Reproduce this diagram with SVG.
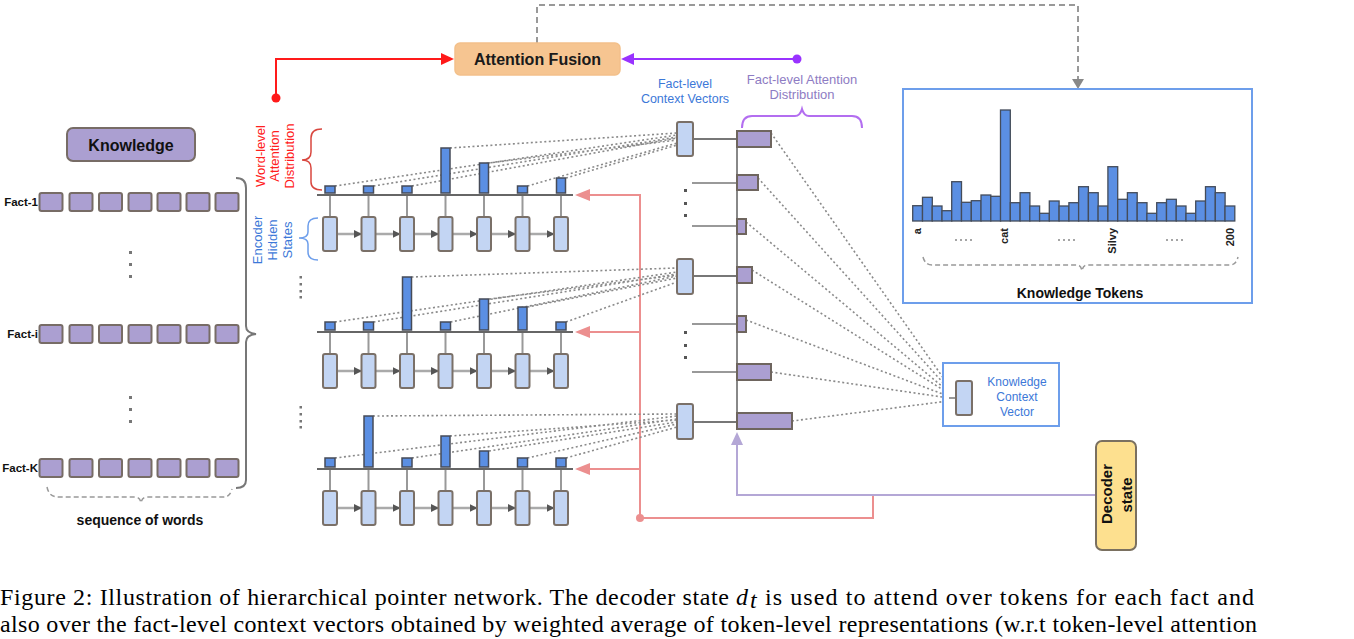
<svg xmlns="http://www.w3.org/2000/svg" width="1354" height="639" viewBox="0 0 1354 639">
<defs>
<style>
.kw{fill:#ab9fd1;stroke:#776c66;stroke-width:2}
.hs{fill:#c3d5f3;stroke:#7a7068;stroke-width:2}
.att{fill:#5b8fe3;stroke:#464b58;stroke-width:1.5}
.tok{fill:#5b8fe3;stroke:#444c5a;stroke-width:1.3}
.fa{fill:#ab9fd1;stroke:#6e655e;stroke-width:2}
.dt{stroke:#8a8a8a;stroke-width:1.6;stroke-dasharray:2 2.5;fill:none}
.hl{stroke:#666;stroke-width:2}
.vc{stroke:#999;stroke-width:2}
.ar{stroke:#aaa;stroke-width:2.5;marker-end:url(#ah)}
.pink{stroke:#ec8f8f;stroke-width:2;fill:none}
.s{font-family:"Liberation Sans",Arial,sans-serif}
.cap{font-family:"Liberation Serif","Times New Roman",serif;font-size:24px;fill:#000}
</style>
<marker id="ah" markerWidth="8" markerHeight="8" refX="7" refY="4" orient="auto" markerUnits="userSpaceOnUse">
<path d="M0,0 L8,4 L0,8 z" fill="#555"/>
</marker>
</defs>

<!-- Top connectors -->
<g id="connectors">
<path d="M537,43 V5 H1078 V80" fill="none" stroke="#999" stroke-width="2" stroke-dasharray="6 4"/>
<polygon points="1072,79 1084,79 1078,89" fill="#888"/>
<path d="M276,98 V59 H442" fill="none" stroke="#ff1a1a" stroke-width="2"/>
<circle cx="276" cy="98" r="4.5" fill="#ff1a1a"/>
<polygon points="441,53 441,65 454,59" fill="#ff1a1a"/>
<path d="M797,59 H633" fill="none" stroke="#9933ff" stroke-width="2"/>
<circle cx="797" cy="59" r="4.5" fill="#9933ff"/>
<polygon points="634,53 634,65 621,59" fill="#9933ff"/>

<!-- pink feed lines -->
<path class="pink" d="M873,495 V518 H640 V195 H588 M640,332 H588 M640,469 H588"/>
<circle cx="640" cy="518" r="4" fill="#ec8f8f"/>
<polygon points="575,195 590,189 590,201" fill="#ec8f8f"/>
<polygon points="575,332 590,326 590,338" fill="#ec8f8f"/>
<polygon points="575,469 590,463 590,475" fill="#ec8f8f"/>

<!-- decoder to fact-level -->
<path d="M1096,495 H737 V444" fill="none" stroke="#b4a7d6" stroke-width="2"/>
<polygon points="731,445 743,445 737,432" fill="#b4a7d6"/>

<!-- word-level dotted lines -->
<g class="dt">
<path d="M335,186 L677,135 M373.5,186 L677,137 M412,186 L677,138 M450,148 L677,133 M488.5,163 L677,140 M527.5,186 L677,143 M566,178 L677,145"/>
<path d="M335,322 L677,272 M373.5,322 L677,274 M411.5,277 L677,268 M450.5,322 L677,276 M489,299 L677,275 M527.5,307 L677,278 M566,322 L677,282"/>
<path d="M335,458 L677,416 M373,416 L677,414 M412,458 L677,419 M450,436 L677,420 M489,451 L677,422 M527.5,458 L677,424 M566,458 L677,427"/>
<path d="M771,133 L956,396 M758,178 L956,397 M746,222 L956,398 M752,270 L956,398 M746,320 L956,399 M771,372 L956,399 M792,421 L956,400"/>
</g>
</g>

<!-- Attention Fusion -->
<g id="attention-fusion">
<rect x="455" y="43" width="165" height="32" rx="5" fill="#f6c591" stroke="#f3c08a" stroke-width="1.5"/>
<text class="s" x="537.5" y="65" font-size="16" font-weight="bold" text-anchor="middle" fill="#1a1a1a">Attention Fusion</text>
</g>

<!-- Knowledge -->
<g id="knowledge">
<rect x="67" y="128" width="128" height="33" rx="6" fill="#ab9fd1" stroke="#776c66" stroke-width="2"/>
<text class="s" x="131" y="151" font-size="16" font-weight="bold" text-anchor="middle" fill="#111">Knowledge</text>
</g>

<g id="facts">
<g class="s" font-size="11.5" font-weight="bold" text-anchor="end" fill="#111">
<text x="38" y="206">Fact-1</text>
<text x="38" y="338">Fact-i</text>
<text x="38" y="472">Fact-K</text>
</g>
<g id="fact-1">
<rect class="kw" x="39.5" y="193" width="23" height="18" rx="2"/><rect class="kw" x="69.5" y="193" width="23" height="18" rx="2"/><rect class="kw" x="99" y="193" width="23" height="18" rx="2"/><rect class="kw" x="128.5" y="193" width="23" height="18" rx="2"/><rect class="kw" x="157.5" y="193" width="23" height="18" rx="2"/><rect class="kw" x="186.5" y="193" width="23" height="18" rx="2"/><rect class="kw" x="215.5" y="193" width="23" height="18" rx="2"/>
</g>
<g id="fact-i">
<rect class="kw" x="39.5" y="325" width="23" height="18" rx="2"/><rect class="kw" x="69.5" y="325" width="23" height="18" rx="2"/><rect class="kw" x="99" y="325" width="23" height="18" rx="2"/><rect class="kw" x="128.5" y="325" width="23" height="18" rx="2"/><rect class="kw" x="157.5" y="325" width="23" height="18" rx="2"/><rect class="kw" x="186.5" y="325" width="23" height="18" rx="2"/><rect class="kw" x="215.5" y="325" width="23" height="18" rx="2"/>
</g>
<g id="fact-k">
<rect class="kw" x="39.5" y="459" width="23" height="18" rx="2"/><rect class="kw" x="69.5" y="459" width="23" height="18" rx="2"/><rect class="kw" x="99" y="459" width="23" height="18" rx="2"/><rect class="kw" x="128.5" y="459" width="23" height="18" rx="2"/><rect class="kw" x="157.5" y="459" width="23" height="18" rx="2"/><rect class="kw" x="186.5" y="459" width="23" height="18" rx="2"/><rect class="kw" x="215.5" y="459" width="23" height="18" rx="2"/>
</g>
<g fill="#777">
<rect x="129" y="251" width="3" height="3"/><rect x="129" y="263" width="3" height="3"/><rect x="129" y="275" width="3" height="3"/>
<rect x="129" y="396" width="3" height="3"/><rect x="129" y="408" width="3" height="3"/><rect x="129" y="420" width="3" height="3"/>
</g>
<path d="M236,178 Q246,178 246,188 L246,326 Q246,333 256,334 Q246,335 246,342 L246,480 Q246,488 236,488" fill="none" stroke="#777" stroke-width="2"/>
<path d="M47,487 Q49,497 58,497 L135,497 Q140,497 141,503 Q142,497 147,497 L224,497 Q230,497 232,489" fill="none" stroke="#999" stroke-width="1.5" stroke-dasharray="5 3"/>
<text class="s" x="140" y="525" font-size="14" font-weight="bold" text-anchor="middle" fill="#111">sequence of words</text>
</g>

<!-- Encoder labels -->
<g id="encoder-labels" class="s" font-size="13">
<g fill="#ff2020" text-anchor="middle">
<text transform="translate(265,156) rotate(-90)">Word-level</text>
<text transform="translate(279,156) rotate(-90)">Attention</text>
<text transform="translate(294,156) rotate(-90)">Distribution</text>
</g>
<path d="M322,129 Q311,129 311,138 L311,152 Q311,160 302,160 Q311,160 311,168 L311,182 Q311,190 322,190" fill="none" stroke="#d9473f" stroke-width="1.5"/>
<g fill="#3c78d8" text-anchor="middle">
<text transform="translate(262,240) rotate(-90)">Encoder</text>
<text transform="translate(277,240) rotate(-90)">Hidden</text>
<text transform="translate(292,240) rotate(-90)">States</text>
</g>
<path d="M318,218 Q308,218 308,226 L308,232 Q308,238 299,238 Q308,238 308,244 L308,252 Q308,260 318,260" fill="none" stroke="#6d9eeb" stroke-width="1.5"/>
<g fill="#777">
<rect x="299.5" y="276" width="2.5" height="2.5"/><rect x="299.5" y="283" width="2.5" height="2.5"/><rect x="299.5" y="290" width="2.5" height="2.5"/><rect x="299.5" y="296" width="2.5" height="2.5"/>
<rect x="299.5" y="406" width="2.5" height="2.5"/><rect x="299.5" y="413" width="2.5" height="2.5"/><rect x="299.5" y="420" width="2.5" height="2.5"/><rect x="299.5" y="426" width="2.5" height="2.5"/>
</g>
</g>

<!-- Encoder row 1 -->
<g id="encoder-1">
<g class="vc"><line x1="330" y1="195" x2="330" y2="217"/><line x1="368.5" y1="195" x2="368.5" y2="217"/><line x1="407" y1="195" x2="407" y2="217"/><line x1="445.5" y1="195" x2="445.5" y2="217"/><line x1="484" y1="195" x2="484" y2="217"/><line x1="522.5" y1="195" x2="522.5" y2="217"/><line x1="561" y1="195" x2="561" y2="217"/></g>
<line class="hl" x1="317" y1="195" x2="573" y2="195"/>
<line class="ar" x1="337" y1="234" x2="361" y2="234"/><line class="ar" x1="375.5" y1="234" x2="399.5" y2="234"/><line class="ar" x1="414" y1="234" x2="438" y2="234"/><line class="ar" x1="452.5" y1="234" x2="476.5" y2="234"/><line class="ar" x1="491" y1="234" x2="515" y2="234"/><line class="ar" x1="529.5" y1="234" x2="553.5" y2="234"/>
<rect class="hs" x="323" y="217" width="14" height="34" rx="2"/><rect class="hs" x="361.5" y="217" width="14" height="34" rx="2"/><rect class="hs" x="400" y="217" width="14" height="34" rx="2"/><rect class="hs" x="438.5" y="217" width="14" height="34" rx="2"/><rect class="hs" x="477" y="217" width="14" height="34" rx="2"/><rect class="hs" x="515.5" y="217" width="14" height="34" rx="2"/><rect class="hs" x="554" y="217" width="14" height="34" rx="2"/>
<rect class="att" x="325" y="186" width="10" height="7"/><rect class="att" x="363.5" y="186" width="10" height="7"/><rect class="att" x="402" y="186" width="10" height="7"/><rect class="att" x="441" y="148" width="9" height="45"/><rect class="att" x="479.5" y="163" width="9" height="30"/><rect class="att" x="517.5" y="186" width="10" height="7"/><rect class="att" x="556.5" y="178" width="9" height="15"/>
</g>

<!-- Encoder row 2 -->
<g id="encoder-2">
<g class="vc"><line x1="330" y1="332" x2="330" y2="354"/><line x1="368.5" y1="332" x2="368.5" y2="354"/><line x1="407" y1="332" x2="407" y2="354"/><line x1="445.5" y1="332" x2="445.5" y2="354"/><line x1="484" y1="332" x2="484" y2="354"/><line x1="522.5" y1="332" x2="522.5" y2="354"/><line x1="561" y1="332" x2="561" y2="354"/></g>
<line class="hl" x1="317" y1="332" x2="573" y2="332"/>
<line class="ar" x1="337" y1="371" x2="361" y2="371"/><line class="ar" x1="375.5" y1="371" x2="399.5" y2="371"/><line class="ar" x1="414" y1="371" x2="438" y2="371"/><line class="ar" x1="452.5" y1="371" x2="476.5" y2="371"/><line class="ar" x1="491" y1="371" x2="515" y2="371"/><line class="ar" x1="529.5" y1="371" x2="553.5" y2="371"/>
<rect class="hs" x="323" y="354" width="14" height="34" rx="2"/><rect class="hs" x="361.5" y="354" width="14" height="34" rx="2"/><rect class="hs" x="400" y="354" width="14" height="34" rx="2"/><rect class="hs" x="438.5" y="354" width="14" height="34" rx="2"/><rect class="hs" x="477" y="354" width="14" height="34" rx="2"/><rect class="hs" x="515.5" y="354" width="14" height="34" rx="2"/><rect class="hs" x="554" y="354" width="14" height="34" rx="2"/>
<rect class="att" x="325" y="322" width="10" height="8"/><rect class="att" x="363.5" y="322" width="10" height="8"/><rect class="att" x="402.5" y="277" width="9" height="53"/><rect class="att" x="440.5" y="322" width="10" height="8"/><rect class="att" x="479.5" y="299" width="9" height="31"/><rect class="att" x="518" y="307" width="9" height="23"/><rect class="att" x="556" y="322" width="10" height="8"/>
</g>

<!-- Encoder row 3 -->
<g id="encoder-3">
<g class="vc"><line x1="330" y1="469" x2="330" y2="491"/><line x1="368.5" y1="469" x2="368.5" y2="491"/><line x1="407" y1="469" x2="407" y2="491"/><line x1="445.5" y1="469" x2="445.5" y2="491"/><line x1="484" y1="469" x2="484" y2="491"/><line x1="522.5" y1="469" x2="522.5" y2="491"/><line x1="561" y1="469" x2="561" y2="491"/></g>
<line class="hl" x1="317" y1="469" x2="573" y2="469"/>
<line class="ar" x1="337" y1="508" x2="361" y2="508"/><line class="ar" x1="375.5" y1="508" x2="399.5" y2="508"/><line class="ar" x1="414" y1="508" x2="438" y2="508"/><line class="ar" x1="452.5" y1="508" x2="476.5" y2="508"/><line class="ar" x1="491" y1="508" x2="515" y2="508"/><line class="ar" x1="529.5" y1="508" x2="553.5" y2="508"/>
<rect class="hs" x="323" y="491" width="14" height="34" rx="2"/><rect class="hs" x="361.5" y="491" width="14" height="34" rx="2"/><rect class="hs" x="400" y="491" width="14" height="34" rx="2"/><rect class="hs" x="438.5" y="491" width="14" height="34" rx="2"/><rect class="hs" x="477" y="491" width="14" height="34" rx="2"/><rect class="hs" x="515.5" y="491" width="14" height="34" rx="2"/><rect class="hs" x="554" y="491" width="14" height="34" rx="2"/>
<rect class="att" x="325" y="458" width="10" height="9"/><rect class="att" x="364" y="416" width="9" height="51"/><rect class="att" x="402" y="458" width="10" height="9"/><rect class="att" x="441" y="436" width="9" height="31"/><rect class="att" x="479.5" y="451" width="9" height="16"/><rect class="att" x="517.5" y="458" width="10" height="9"/><rect class="att" x="556" y="458" width="10" height="9"/>
</g>

<!-- Fact-level -->
<g id="fact-level">
<text class="s" x="685" y="88" font-size="12.5" text-anchor="middle" fill="#3c78d8">Fact-level</text>
<text class="s" x="685" y="103" font-size="12.5" text-anchor="middle" fill="#3c78d8">Context Vectors</text>
<text class="s" x="802" y="84" font-size="13" text-anchor="middle" fill="#8e7cc3">Fact-level Attention</text>
<text class="s" x="802" y="99" font-size="13" text-anchor="middle" fill="#8e7cc3">Distribution</text>
<path d="M742,128 Q742,116 752,116 L795,116 Q800,116 802,109 Q804,116 809,116 L852,116 Q862,116 862,128" fill="none" stroke="#b36ef0" stroke-width="2"/>
<line x1="737" y1="131" x2="737" y2="429" stroke="#888" stroke-width="2"/>
<g stroke="#777" stroke-width="2">
<line x1="693" y1="139" x2="737" y2="139"/><line x1="693" y1="276" x2="737" y2="276"/><line x1="693" y1="422" x2="737" y2="422"/>
</g>
<g stroke="#999" stroke-width="2">
<line x1="692" y1="183" x2="737" y2="183"/><line x1="692" y1="226" x2="737" y2="226"/><line x1="692" y1="324" x2="737" y2="324"/><line x1="692" y1="372" x2="737" y2="372"/>
</g>
<g fill="#555">
<rect x="684" y="189" width="3" height="3"/><rect x="684" y="202" width="3" height="3"/><rect x="684" y="214" width="3" height="3"/>
<rect x="684" y="331" width="3" height="3"/><rect x="684" y="344" width="3" height="3"/><rect x="684" y="356" width="3" height="3"/>
</g>
<rect class="hs" x="677" y="122" width="16" height="34" rx="2"/>
<rect class="hs" x="677" y="259" width="16" height="35" rx="2"/>
<rect class="hs" x="677" y="404" width="16" height="35" rx="2"/>
<rect class="fa" x="737" y="131" width="34" height="16"/>
<rect class="fa" x="737" y="175" width="21" height="15"/>
<rect class="fa" x="737" y="219" width="9" height="15"/>
<rect class="fa" x="737" y="267" width="15" height="16"/>
<rect class="fa" x="737" y="316" width="9" height="16"/>
<rect class="fa" x="737" y="364" width="34" height="16"/>
<rect class="fa" x="737" y="413" width="55" height="16"/>
</g>

<!-- Knowledge Tokens -->
<g id="knowledge-tokens">
<rect x="903" y="89" width="349" height="214" fill="none" stroke="#6d9eeb" stroke-width="2"/>
<g class="tok">
<rect x="912.7" y="205.7" width="9.8" height="15.3"/>
<rect x="922.5" y="197.3" width="9.8" height="23.7"/>
<rect x="932.2" y="206" width="9.8" height="15"/>
<rect x="942" y="210.7" width="9.8" height="10.3"/>
<rect x="951.7" y="181.7" width="9.8" height="39.3"/>
<rect x="961.5" y="202.3" width="9.8" height="18.7"/>
<rect x="971.3" y="200.7" width="9.8" height="20.3"/>
<rect x="981" y="195" width="9.8" height="26"/>
<rect x="990.8" y="196.3" width="9.8" height="24.7"/>
<rect x="1000.5" y="110" width="9.8" height="111"/>
<rect x="1010.3" y="202.7" width="9.8" height="18.3"/>
<rect x="1020.1" y="192.7" width="9.8" height="28.3"/>
<rect x="1029.8" y="206" width="9.8" height="15"/>
<rect x="1039.6" y="213.3" width="9.8" height="7.7"/>
<rect x="1049.3" y="201" width="9.8" height="20"/>
<rect x="1059.1" y="206" width="9.8" height="15"/>
<rect x="1068.9" y="202.7" width="9.8" height="18.3"/>
<rect x="1078.6" y="186.7" width="9.8" height="34.3"/>
<rect x="1088.4" y="192.7" width="9.8" height="28.3"/>
<rect x="1098.1" y="206" width="9.8" height="15"/>
<rect x="1107.9" y="166.7" width="9.8" height="54.3"/>
<rect x="1117.7" y="199.3" width="9.8" height="21.7"/>
<rect x="1127.4" y="192.7" width="9.8" height="28.3"/>
<rect x="1137.2" y="202.7" width="9.8" height="18.3"/>
<rect x="1146.9" y="213.3" width="9.8" height="7.7"/>
<rect x="1156.7" y="202.7" width="9.8" height="18.3"/>
<rect x="1166.5" y="199.3" width="9.8" height="21.7"/>
<rect x="1176.2" y="206" width="9.8" height="15"/>
<rect x="1186" y="213.3" width="9.8" height="7.7"/>
<rect x="1195.7" y="201" width="9.8" height="20"/>
<rect x="1205.5" y="186.7" width="9.8" height="34.3"/>
<rect x="1215.3" y="192.7" width="9.8" height="28.3"/>
<rect x="1225" y="206" width="9.8" height="15"/>
</g>
<g class="s" font-size="11" font-weight="bold" fill="#222" text-anchor="end">
<text transform="translate(921,228) rotate(-90)">a</text>
<text transform="translate(1008,228) rotate(-90)">cat</text>
<text transform="translate(1116,228) rotate(-90)">Silvy</text>
<text transform="translate(1234,228) rotate(-90)">200</text>
</g>
<g stroke="#888" stroke-width="1.5" stroke-dasharray="2 3">
<line x1="955" y1="240" x2="973" y2="240"/><line x1="1058" y1="240" x2="1078" y2="240"/><line x1="1166" y1="240" x2="1186" y2="240"/>
</g>
<path d="M923,257 Q925,265 932,265 L1077,265 Q1081,265 1082,271 Q1083,265 1087,265 L1230,265 Q1236,265 1238,257" fill="none" stroke="#999" stroke-width="1.5" stroke-dasharray="5 3"/>
<text class="s" x="1080" y="298" font-size="14" font-weight="bold" text-anchor="middle" fill="#111">Knowledge Tokens</text>
</g>

<!-- Knowledge Context Vector -->
<g id="knowledge-context-vector">
<rect x="943" y="363" width="116" height="63" fill="#fff" stroke="#6d9eeb" stroke-width="2"/>
<line x1="949" y1="398" x2="956" y2="398" stroke="#777" stroke-width="1.5"/>
<rect class="hs" x="956" y="381" width="16" height="34" rx="2"/>
<g class="s" font-size="12" text-anchor="middle" fill="#3c78d8">
<text x="1017" y="386">Knowledge</text>
<text x="1017" y="401">Context</text>
<text x="1017" y="416">Vector</text>
</g>
</g>

<!-- Decoder state -->
<g id="decoder-state">
<rect x="1096" y="441" width="40" height="109" rx="6" fill="#fde08f" stroke="#7a7060" stroke-width="2"/>
<text class="s" transform="translate(1112,494) rotate(-90)" font-size="15" font-weight="bold" text-anchor="middle" fill="#111">Decoder</text>
<text class="s" transform="translate(1132,495) rotate(-90)" font-size="15" font-weight="bold" text-anchor="middle" fill="#111">state</text>
</g>

<!-- Caption -->
<g id="caption">
<text class="cap" x="0" y="605" textLength="729" lengthAdjust="spacing">Figure 2: Illustration of hierarchical pointer network. The decoder state</text>
<text class="cap" x="736" y="605" font-style="italic">d</text>
<text class="cap" x="750" y="608" font-style="italic" font-size="12">t</text>
<text class="cap" x="765" y="605" textLength="489" lengthAdjust="spacing">is used to attend over tokens for each fact and</text>
<text class="cap" x="0" y="632" textLength="1257" lengthAdjust="spacing">also over the fact-level context vectors obtained by weighted average of token-level representations (w.r.t token-level attention</text>
</g>
</svg>
